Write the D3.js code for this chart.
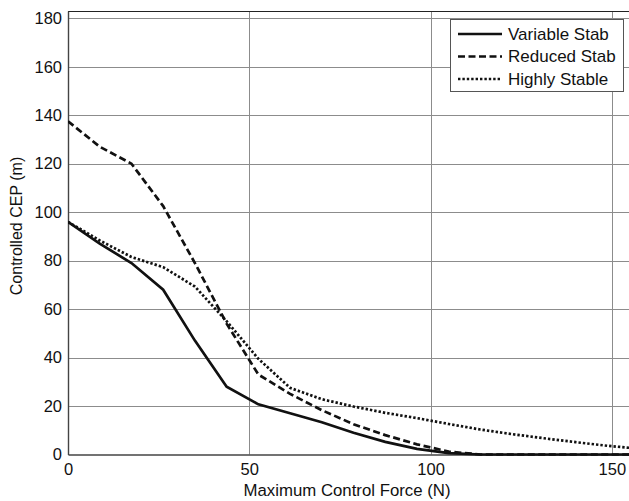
<!DOCTYPE html>
<html>
<head>
<meta charset="utf-8">
<script src="https://cdn.jsdelivr.net/npm/d3@7"></script>
<style>
  html, body { margin: 0; padding: 0; background: #ffffff; }
  svg { display: block; font-family: "Liberation Sans", Arial, sans-serif; }
</style>
</head>
<body>
<svg id="chart" width="629" height="501"></svg>
<script>
// ---- data ----
const forces = [0, 8.75, 17.5, 26.25, 35, 43.75, 52.5, 61.25, 70, 78.75, 87.5, 96.25, 105, 113.75, 122.5, 131.25, 140, 148.75, 157.5];
const variableStab = [96, 87, 79, 68, 47, 28, 20.7, 17, 13.3, 9, 5.2, 2.3, 0.6, 0, 0, 0, 0, 0, 0];
const reducedStab  = [137.5, 127, 120, 102.5, 79, 54, 33, 25, 18.3, 12.5, 8, 4.2, 1.2, 0, 0, 0, 0, 0, 0];
const highlyStable = [96, 88.3, 81.5, 77.3, 69.3, 55, 39.5, 27.5, 22.8, 19.8, 17.2, 15, 12.6, 10.3, 8.4, 6.7, 5.1, 3.6, 2.4];
const seriesNames = ["Variable Stab", "Reduced Stab", "Highly Stable"];
const xTicks = [0, 50, 100, 150];
const yTicks = [0, 20, 40, 60, 80, 100, 120, 140, 160, 180];
const xLabel = "Maximum Control Force (N)";
const yLabel = "Controlled CEP (m)";

(function () {
// ---- layout ----
const svg = d3.select("#chart");
const pL = 68, pR = 630, pT = 11, pB = 454.5;
const x = d3.scaleLinear().domain([0, 155]).range([pL, pR]);
const y = d3.scaleLinear().domain([0, 183]).range([pB, pT]);

svg.append("rect").attr("width", 629).attr("height", 501).attr("fill", "#ffffff");

// grid
const grid = svg.append("g").attr("stroke", "#8c8c8c").attr("stroke-width", 1);
grid.selectAll("line.gy").data(yTicks.filter(d => d > 0)).enter().append("line")
  .attr("x1", pL).attr("x2", pR)
  .attr("y1", d => Math.round(y(d)) + 0.5).attr("y2", d => Math.round(y(d)) + 0.5);
grid.selectAll("line.gx").data(xTicks.filter(d => d > 0)).enter().append("line")
  .attr("y1", pT).attr("y2", pB)
  .attr("x1", d => Math.round(x(d)) + 0.5).attr("x2", d => Math.round(x(d)) + 0.5);

// frame
svg.append("line").attr("x1", pL).attr("x2", pR).attr("y1", pT + 0.5).attr("y2", pT + 0.5)
  .attr("stroke", "#222").attr("stroke-width", 1.2);

// axes
const xAxis = d3.axisBottom(x).tickValues(xTicks).tickSize(0).tickPadding(9).tickFormat(d3.format("d"));
const yAxis = d3.axisLeft(y).tickValues(yTicks).tickSize(0).tickPadding(6).tickFormat(d3.format("d"));
const gx = svg.append("g").attr("transform", `translate(0,${pB})`).call(xAxis);
const gy = svg.append("g").attr("transform", `translate(${pL},0)`).call(yAxis);
[gx, gy].forEach(g => {
  g.select(".domain").attr("stroke", "#444").attr("stroke-width", 1.4);
  g.selectAll("text").attr("font-size", 16.5).attr("fill", "#111")
    .attr("font-family", "'Liberation Sans', Arial, sans-serif");
});

// lines
const seriesData = [variableStab, reducedStab, highlyStable];
const dashes = [null, "7,3.5", "2.4,2"];
const line = d3.line().x(d => x(d[0])).y(d => y(d[1]));
svg.append("clipPath").attr("id", "clip").append("rect")
  .attr("x", pL).attr("y", pT).attr("width", pR - pL).attr("height", pB - pT + 2);
seriesData.forEach((vals, i) => {
  svg.append("path")
    .datum(forces.map((f, j) => [f, vals[j]]))
    .attr("d", line)
    .attr("fill", "none")
    .attr("stroke", "#111")
    .attr("stroke-width", 2.7)
    .attr("stroke-dasharray", dashes[i])
    .attr("clip-path", "url(#clip)");
});

// axis labels
svg.append("text").attr("x", 347).attr("y", 496).attr("text-anchor", "middle")
  .attr("font-size", 16.8).attr("fill", "#111").text(xLabel);
svg.append("text").attr("transform", "translate(22,226) rotate(-90)").attr("text-anchor", "middle")
  .attr("font-size", 16).attr("fill", "#111").text(yLabel);

// legend
const lg = svg.append("g");
lg.append("rect").attr("x", 450.5).attr("y", 19.5).attr("width", 173).attr("height", 72)
  .attr("fill", "#ffffff").attr("stroke", "#555").attr("stroke-width", 1);
seriesNames.forEach((name, i) => {
  const yy = 34 + i * 22.5;
  lg.append("line").attr("x1", 458).attr("x2", 502).attr("y1", yy).attr("y2", yy)
    .attr("stroke", "#111").attr("stroke-width", 2.7).attr("stroke-dasharray", dashes[i]);
  lg.append("text").attr("x", 508).attr("y", yy + 5.5).attr("font-size", 17)
    .attr("fill", "#111").text(name);
});
})();
</script>
</body>
</html>
